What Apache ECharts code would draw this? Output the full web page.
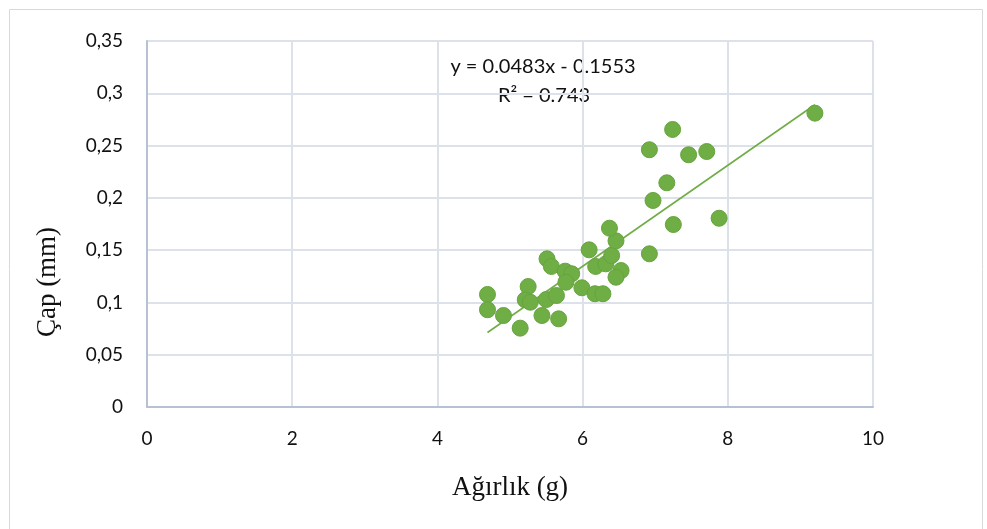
<!DOCTYPE html>
<html>
<head>
<meta charset="utf-8">
<script src="https://cdn.jsdelivr.net/npm/echarts@6/dist/echarts.min.js"></script>
<style>
html,body{margin:0;padding:0;background:#fff;}
#c{width:987px;height:529px;}
</style>
</head>
<body>
<div id="c"></div>
<script>
// Data
const weightX = [4.69,4.69,4.91,5.14,5.25,5.21,5.28,5.44,5.50,5.51,5.57,5.64,5.67,5.76,5.85,5.77,5.99,6.09,6.18,6.17,6.28,6.32,6.40,6.46,6.37,6.53,6.46,6.92,6.97,6.92,7.16,7.25,7.24,7.46,7.71,7.88,9.20];
const diameterY = [0.1076,0.0930,0.0875,0.0754,0.1152,0.1025,0.1002,0.0875,0.1028,0.1417,0.1344,0.1066,0.0843,0.1299,0.1274,0.1193,0.1140,0.1503,0.1344,0.1083,0.1083,0.1369,0.1449,0.1589,0.1710,0.1305,0.1241,0.1465,0.1975,0.2460,0.2144,0.1745,0.2654,0.2412,0.2443,0.1805,0.2810];
const trendSlope = 0.0483;
const trendIntercept = -0.1553;
const trendRangeX = [4.69, 9.2];
const xTicks = [0,2,4,6,8,10];
const yTicks = [0,0.05,0.1,0.15,0.2,0.25,0.3,0.35];
const xTitle = 'Ağırlık (g)';
const yTitle = 'Çap (mm)';
const eqText = 'y = 0.0483x - 0.1553';
const r2Text = 'R² = 0.743';

const points = weightX.map((x,i)=>[x, diameterY[i]]);
const trend = trendRangeX.map(x=>[x, trendSlope*x + trendIntercept]);

const chart = echarts.init(document.getElementById('c'), null, {renderer:'canvas'});
const tickFont = {fontFamily:'Lato,"Open Sans",sans-serif', fontSize:19, color:'#111'};
const eqFont = '20px Lato,"Open Sans",sans-serif';
const titleFont = '27px "Liberation Serif","DejaVu Serif",serif';
chart.setOption({
  animation:false,
  backgroundColor:'#fff',
  grid:{left:147, right:114, top:41, bottom:122, containLabel:false},
  xAxis:{
    type:'value', min:xTicks[0], max:xTicks[xTicks.length-1], interval:2,
    axisLine:{show:true, onZero:false, lineStyle:{color:'#b7c1d6', width:2}},
    axisTick:{show:false},
    axisLabel:Object.assign({margin:22, formatter:v=>String(v)}, tickFont),
    splitLine:{show:true, lineStyle:{color:'#dde1ea', width:2}}
  },
  yAxis:{
    type:'value', min:yTicks[0], max:yTicks[yTicks.length-1], interval:0.05,
    axisLine:{show:true, onZero:false, lineStyle:{color:'#b7c1d6', width:2}},
    axisTick:{show:false},
    axisLabel:Object.assign({margin:24, formatter:v=>String(+v.toFixed(2)).replace('.',',')}, tickFont),
    splitLine:{show:true, lineStyle:{color:'#dde1ea', width:2}}
  },
  graphic:[
    {type:'rect', left:7, top:7, shape:{width:973, height:520}, style:{fill:'none', stroke:'#d9d9d9', lineWidth:1}, z:-1},
    {type:'text', style:{text:eqText, x:543, y:67, textAlign:'center', textVerticalAlign:'middle', font:eqFont, fill:'#111'}},
    {type:'text', style:{text:r2Text, x:544, y:96, textAlign:'center', textVerticalAlign:'middle', font:eqFont, fill:'#111'}},
    {type:'text', style:{text:xTitle, x:510, y:488, textAlign:'center', textVerticalAlign:'middle', font:titleFont, fill:'#111'}},
    {type:'text', rotation:Math.PI/2, x:48, y:282, style:{text:yTitle, x:0, y:0, textAlign:'center', textVerticalAlign:'middle', font:titleFont, fill:'#111'}}
  ],
  series:[
    {type:'scatter', data:points, symbol:'circle', symbolSize:16,
     itemStyle:{color:'#6fae45', borderColor:'#67a33f', borderWidth:1, opacity:1}, z:3},
    {type:'line', data:trend, showSymbol:false, symbol:'none',
     lineStyle:{color:'#70ad47', width:1.6}, z:2}
  ]
});
</script>
</body>
</html>
